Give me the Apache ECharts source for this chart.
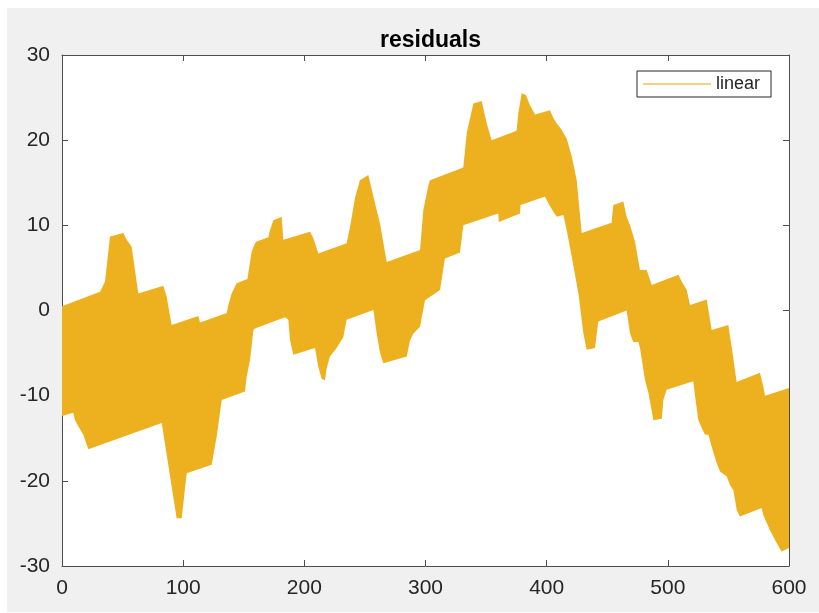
<!DOCTYPE html>
<html>
<head>
<meta charset="utf-8">
<script src="https://cdn.jsdelivr.net/npm/echarts@6/dist/echarts.min.js"></script>
<style>
  html, body { margin: 0; padding: 0; background: #ffffff; }
  #chart { width: 819px; height: 613px; }
</style>
</head>
<body>
<div id="chart"></div>
<script>
// Residuals of the linear fit: the signal swings between an upper and a lower
// envelope every sample, so the trace reads as a filled band between the two.
const upperX = [0, 31.4, 35.5, 39.6, 50.6, 53.4, 57.5, 63, 83.6, 86.4, 90.5, 112.5, 113.9, 136, 137.3, 140, 144.1, 153,
  156.5, 159.3, 160.6, 170.3, 171.6, 174.4, 181.3, 182.7, 204.7, 207.4, 211.5, 234.9, 237.7, 241.8, 245.9, 252.8,
  257, 262.5, 268, 295.5, 298.2, 302.4, 303.7, 331.2, 334, 339.5, 346.4, 350.5, 354.6, 375.2, 376.6, 379.4,
  382.9, 386.2, 390.4, 402.7, 405.5, 408.3, 412.4, 416.5, 420.7, 424.8, 428.9, 453.6, 455, 463.3, 466, 468.8,
  472.9, 477, 482.6, 486.7, 508.7, 511.5, 515.6, 518.3, 532.1, 536.2, 549.9, 552.7, 556.8, 576, 578.8, 580.2, 600];
const upperY = [0.5, 2.2, 3.4, 8.7, 9.1, 8.3, 7.5, 2.0, 2.9, 1.6, -1.7, -0.65, -1.4, -0.3, 0.65, 2.0, 3.2, 3.7,
  6.9, 7.9, 8.1, 8.6, 9.4, 10.6, 11.0, 8.3, 9.25, 8.5, 6.7, 7.9, 9.8, 13.2, 15.3, 15.9,
  13.4, 10.2, 5.7, 7.1, 11.8, 14.7, 15.3, 16.8, 20.8, 24.3, 24.6, 22.0, 20.0, 21.1, 23.2, 25.5,
  25.3, 24.1, 23.0, 23.5, 22.6, 22.0, 21.2, 20.2, 18.1, 15.3, 9.1, 10.3, 12.4, 12.8, 11.0, 10.0,
  8.1, 4.75, 4.75, 3.0, 4.2, 3.4, 2.4, 0.65, 1.3, -2.3, -1.7, -4.25, -8.4, -7.3, -8.9, -10.0, -9.1];

const lowerX = [0, 9.3, 10.7, 13.5, 17.6, 21.7, 82.3, 94.6, 98.8, 102.9, 123.5, 127.7, 131.8, 151, 152.4, 155.2, 158,
  159.3, 184, 186.8, 188.2, 190.9, 208.8, 211.5, 214.3, 217, 218.4, 221.1, 226.7, 232.2, 234.9, 257, 259.7,
  262.5, 265.2, 284.5, 287.3, 290, 295.5, 299.6, 312, 316, 328.5, 331.2, 360, 360.5, 378, 378.5, 398.6,
  401.4, 405.5, 408.3, 413.8, 416.5, 420.7, 426.2, 430.3, 433, 439.9, 442.6, 466, 468.8, 471.5, 475.7,
  477, 481.2, 484, 488.1, 495, 496.3, 499, 521, 522.5, 525.2, 528, 530.7, 533.5, 536.2, 540.3, 543.1,
  548.6, 551.3, 554.1, 556.8, 559.5, 577.4, 578.8, 584.3, 589.8, 593.9, 600];
const lowerY = [-12.4, -12.0, -12.9, -13.6, -14.6, -16.3, -13.2, -24.4, -24.4, -19.1, -18.1, -14.8, -10.5, -9.5, -7.8, -5.8, -2.3,
  -2.1, -0.8, -1.1, -3.5, -5.2, -4.4, -6.6, -8.0, -8.2, -6.8, -5.4, -4.4, -3.1, -1.1, 0.06, -2.7,
  -5.0, -6.2, -5.4, -3.5, -2.7, -1.9, 1.2, 2.4, 6.1, 6.8, 10.0, 11.4, 10.4, 11.4, 12.4, 13.4,
  12.6, 11.6, 11.0, 11.2, 9.45, 6.3, 2.0, -2.7, -4.6, -4.4, -1.3, 0.0, -2.7, -3.7, -3.7,
  -4.4, -8.2, -9.7, -12.9, -12.7, -10.5, -9.3, -8.3, -10.1, -12.9, -13.8, -14.6, -14.6, -16.0, -17.9, -18.9,
  -19.5, -20.5, -21.1, -23.4, -24.2, -23.2, -24.0, -25.8, -27.3, -28.3, -27.9];

const xTicks = [0, 100, 200, 300, 400, 500, 600];
const yTicks = [-30, -20, -10, 0, 10, 20, 30];
const seriesName = 'linear';
const titleText = 'residuals';

const BAND = '#EDB120';
const INK = '#262626';
const FONT = '"Liberation Sans", Arial, Helvetica, sans-serif';

const chart = echarts.init(document.getElementById('chart'), null, { renderer: 'canvas' });

const tickCommon = {
  axisLine: { show: true, onZero: false, lineStyle: { color: '#4d4d4d', width: 1 } },
  axisTick: { show: true, inside: true, length: 6, lineStyle: { color: '#4d4d4d', width: 1 } },
  splitLine: { show: false }
};

chart.setOption({
  animation: false,
  backgroundColor: '#ffffff',
  graphic: [{
    type: 'rect', z: -10, silent: true,
    shape: { x: 7, y: 8, width: 812, height: 604 },
    style: { fill: '#f0f0f0' }
  }],
  title: {
    text: titleText,
    left: 425.5, top: 24, textAlign: 'center',
    textStyle: { fontFamily: FONT, fontSize: 23, fontWeight: 'bold', color: '#000' }
  },
  legend: {
    data: [{ name: seriesName, icon: 'rect', itemStyle: { color: '#F0C24E' } }],
    left: 637, top: 71,
    padding: [4, 11, 4, 6],
    itemWidth: 68, itemHeight: 1.5,
    backgroundColor: '#ffffff',
    borderColor: INK, borderWidth: 1, borderRadius: 0,
    textStyle: { fontFamily: FONT, fontSize: 18, color: INK },
    selectedMode: false
  },
  grid: {
    left: 62, right: 30, top: 55, bottom: 47,
    show: true, backgroundColor: '#ffffff', borderWidth: 0
  },
  xAxis: [
    Object.assign({
      type: 'value', position: 'bottom', min: xTicks[0], max: xTicks[xTicks.length - 1], interval: 100,
      axisLabel: { show: true, margin: 12, fontFamily: FONT, fontSize: 21, color: INK }
    }, tickCommon),
    Object.assign({
      type: 'value', position: 'top', min: xTicks[0], max: xTicks[xTicks.length - 1], interval: 100,
      axisLabel: { show: false }
    }, tickCommon)
  ],
  yAxis: [
    Object.assign({
      type: 'value', position: 'left', min: yTicks[0], max: yTicks[yTicks.length - 1], interval: 10,
      axisLabel: { show: true, margin: 12, fontFamily: FONT, fontSize: 21, color: INK }
    }, tickCommon),
    Object.assign({
      type: 'value', position: 'right', min: yTicks[0], max: yTicks[yTicks.length - 1], interval: 10,
      axisLabel: { show: false }
    }, tickCommon)
  ],
  series: [{
    name: seriesName,
    type: 'custom',
    xAxisIndex: 0, yAxisIndex: 0,
    clip: true,
    itemStyle: { color: BAND },
    data: [[0, 0]],
    renderItem: function (params, api) {
      const pts = [];
      for (let i = 0; i < upperX.length; i++) pts.push(api.coord([upperX[i], upperY[i]]));
      for (let i = lowerX.length - 1; i >= 0; i--) pts.push(api.coord([lowerX[i], lowerY[i]]));
      return {
        type: 'polygon',
        shape: { points: pts },
        style: { fill: BAND, stroke: null }
      };
    }
  }]
});
</script>
</body>
</html>
